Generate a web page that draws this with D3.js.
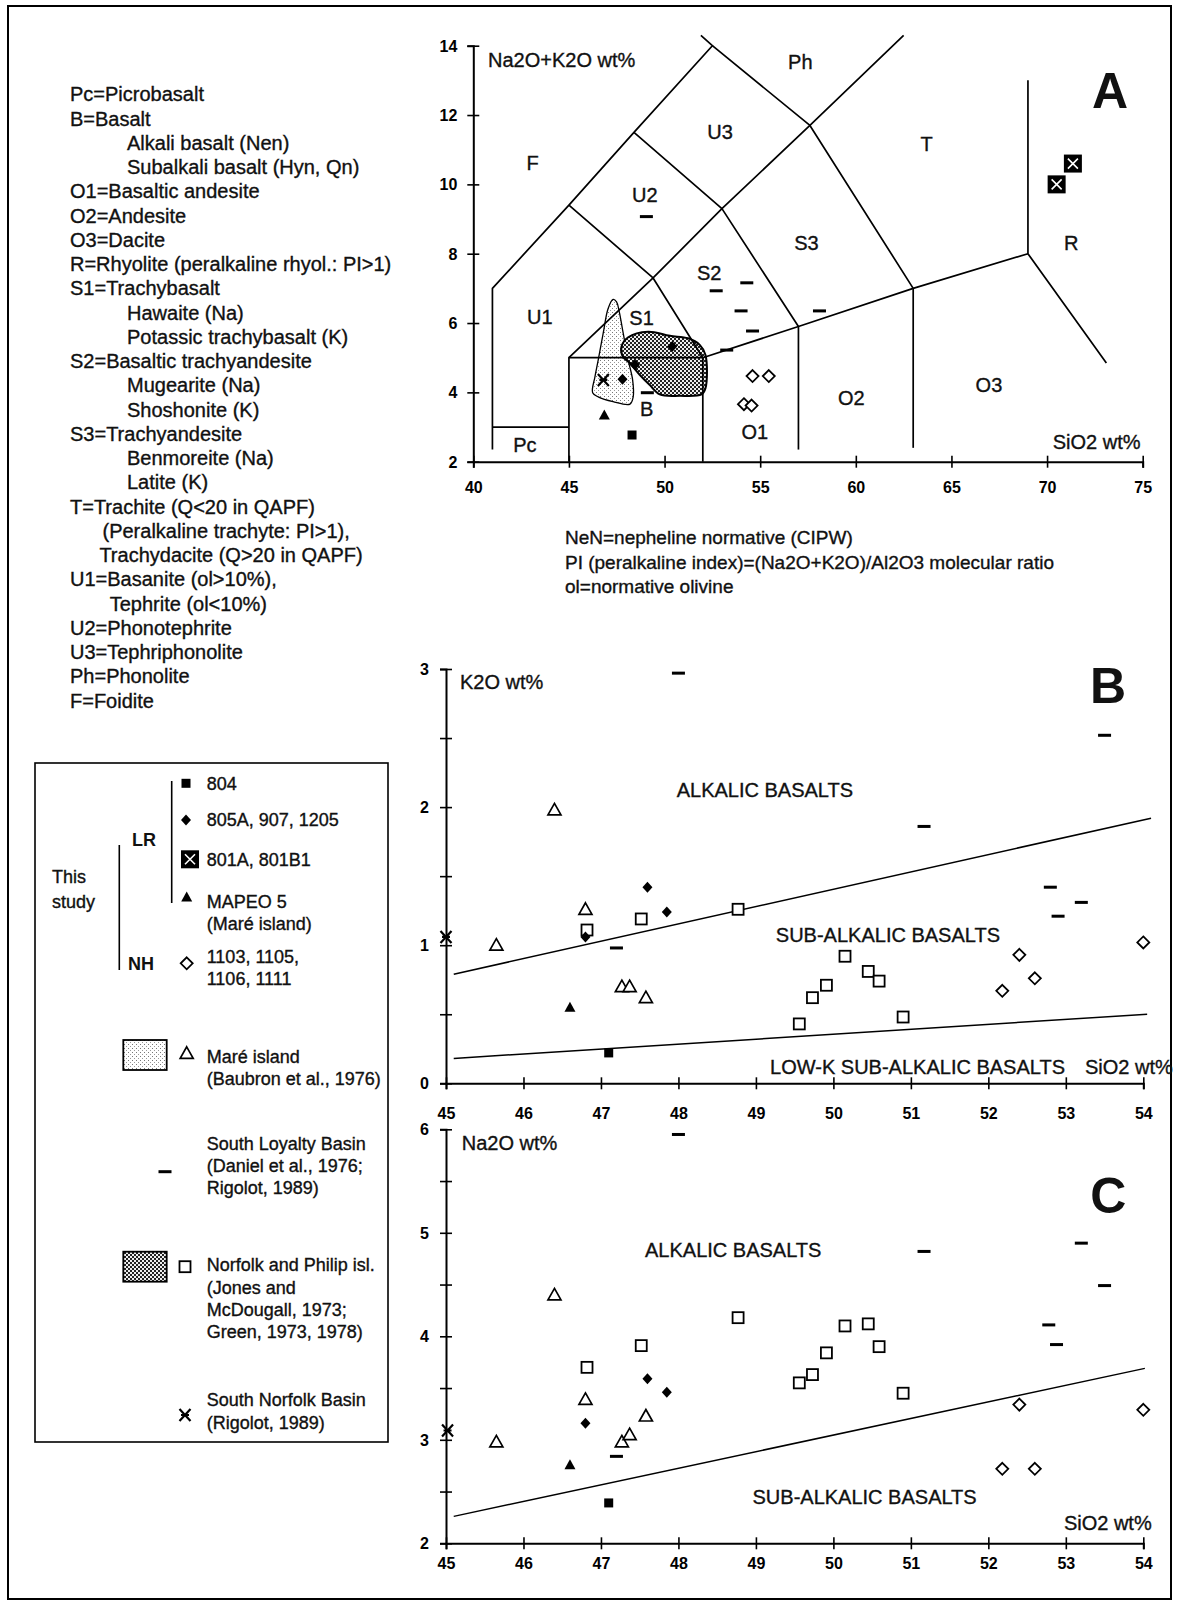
<!DOCTYPE html>
<html><head><meta charset="utf-8">
<script src="https://cdn.jsdelivr.net/npm/d3@7"></script>
<style>
body{margin:0;background:#fff}
svg{display:block}
text{font-family:"Liberation Sans",Arial,Helvetica,sans-serif;fill:#111;stroke:#111;stroke-width:0.35px}
</style>
</head><body>
<svg id="fig" width="1179" height="1607"></svg>
<script>
// ---------- Panel A: TAS classification (SiO2 vs Na2O+K2O) ----------
const tasBoundaries = [
  [[41,2.35],[41,7],[45,9.4],[48.4,11.5],[52.5,14],[51.9,14.3]],
  [[41,3],[45,3]],
  [[45,2],[45,5],[52,5],[52,2]],
  [[45,5],[49.4,7.3],[52,5]],
  [[45,9.4],[49.4,7.3],[53,9.3],[57.6,11.7],[62.5,14.3]],
  [[48.4,11.5],[53,9.3],[57,5.9]],
  [[52.5,14],[57.6,11.7],[63,7]],
  [[52,5],[57,5.9],[63,7],[69,8]],
  [[57,2.35],[57,5.9]],
  [[63,2.4],[63,7]],
  [[69,13],[69,8],[73.1,4.85]]
];
const tasFieldLabels = [
  ["F",43.1,10.62],["U3",52.9,11.52],["U2",48.97,9.69],["Ph",57.1,13.54],["T",63.7,11.16],
  ["S3",57.42,8.3],["R",71.26,8.3],["S2",52.33,7.45],["U1",43.48,6.18],["S1",48.8,6.14],
  ["B",49.06,3.51],["Pc",42.7,2.48],["O1",54.72,2.87],["O2",59.77,3.83],["O3",66.96,4.21]
];
const tasXTicks = [40,45,50,55,60,65,70,75];
const tasYTicks = [2,4,6,8,10,12,14];

// Outline of the Maré island field and of the Norfolk/Philip field
const mareField = [[47.31,6.68],[47.05,6.42],[46.79,5.70],[46.53,4.93],[46.36,4.45],[46.24,3.99],
  [46.53,3.87],[47.31,3.73],[48.19,3.66],[48.36,3.87],[48.33,4.36],[48.10,4.93],[47.84,5.70],
  [47.63,6.33],[47.49,6.61]];
const norfolkField = [[47.75,5.32],[48.10,5.59],[49.14,5.75],[50.28,5.63],[51.23,5.56],[51.84,5.37],
  [52.14,5.08],[52.14,4.12],[51.93,3.94],[50.80,3.90],[49.75,3.94],[49.23,4.21],[48.71,4.50],
  [48.19,4.84],[47.80,5.05]];

// samples: [SiO2, Na2O+K2O]
const a804   = [[48.3,2.77]];
const a805   = [[47.8,4.38],[48.45,4.8],[50.4,5.32]];
const a801   = [[70.5,10.0],[71.35,10.6]];
const aMapeo = [[46.85,3.35]];
const aNH    = [[54.6,4.47],[55.45,4.47],[54.15,3.66],[54.55,3.62]];
const aSLB   = [[49.05,9.07],[52.7,6.93],[54.3,7.16],[54.0,6.35],[54.6,5.77],[53.25,5.22],[58.1,6.35],[49.1,3.99]];
const aSNB   = [[46.8,4.36]];

// ---------- Panel B: SiO2 vs K2O ----------
const bAlkLine  = [[45.1,0.79],[54.1,1.92]];
const bLowKLine = [[45.1,0.18],[54.05,0.5]];
const b804   = [[47.1,0.22]];
const b805   = [[46.8,1.06],[47.6,1.42],[47.85,1.24]];
const bMapeo = [[46.6,0.55]];
const bNH    = [[52.18,0.67],[52.4,0.93],[52.6,0.76],[54.0,1.02]];
const bMare  = [[45.65,1.0],[46.4,1.98],[46.8,1.26],[47.27,0.7],[47.37,0.7],[47.58,0.62]];
const bSLB   = [[48.0,2.97],[47.2,0.98],[51.17,1.86],[53.5,2.52],[52.8,1.42],[53.2,1.31],[52.9,1.21]];
const bNF    = [[46.82,1.11],[47.52,1.19],[48.77,1.26],[49.56,0.43],[49.73,0.62],[49.91,0.71],
                [50.15,0.92],[50.45,0.81],[50.59,0.74],[50.9,0.48]];
const bSNB   = [[45.0,1.06]];

// ---------- Panel C: SiO2 vs Na2O ----------
const cAlkLine = [[45.1,2.26],[54.02,3.69]];
const c804   = [[47.1,2.39]];
const c805   = [[46.8,3.16],[47.6,3.59],[47.85,3.46]];
const cMapeo = [[46.6,2.76]];
const cNH    = [[52.18,2.72],[52.4,3.34],[52.6,2.72],[54.0,3.29]];
const cMare  = [[45.65,2.98],[46.4,4.4],[46.8,3.39],[47.27,2.98],[47.37,3.05],[47.58,3.23]];
const cSLB   = [[48.0,5.95],[47.2,2.84],[51.17,4.82],[53.2,4.9],[53.5,4.49],[52.78,4.11],[52.88,3.92]];
const cNF    = [[46.82,3.7],[47.52,3.91],[48.77,4.18],[49.56,3.55],[49.73,3.63],[49.91,3.84],
                [50.15,4.1],[50.45,4.12],[50.59,3.9],[50.9,3.45]];
const cSNB   = [[45.02,3.09]];

const bcXTicks = [45,46,47,48,49,50,51,52,53,54];
const bYTicks = [0,0.5,1,1.5,2,2.5,3];
const cYTicks = [2,2.5,3,3.5,4,4.5,5,5.5,6];

// rock-name key
const rockKey = [
  [0,"Pc=Picrobasalt"],[0,"B=Basalt"],[2,"Alkali basalt (Nen)"],[2,"Subalkali basalt (Hyn, Qn)"],
  [0,"O1=Basaltic andesite"],[0,"O2=Andesite"],[0,"O3=Dacite"],[0,"R=Rhyolite (peralkaline rhyol.: PI>1)"],
  [0,"S1=Trachybasalt"],[2,"Hawaite (Na)"],[2,"Potassic trachybasalt (K)"],
  [0,"S2=Basaltic trachyandesite"],[2,"Mugearite (Na)"],[2,"Shoshonite (K)"],
  [0,"S3=Trachyandesite"],[2,"Benmoreite (Na)"],[2,"Latite (K)"],
  [0,"T=Trachite (Q<20 in QAPF)"],[1,"(Peralkaline trachyte: PI>1),"],[1.5,"Trachydacite (Q>20 in QAPF)"],
  [0,"U1=Basanite (ol>10%),"],[1.7,"Tephrite (ol<10%)"],
  [0,"U2=Phonotephrite"],[0,"U3=Tephriphonolite"],[0,"Ph=Phonolite"],[0,"F=Foidite"]
];
const notes = [
  "NeN=nepheline normative (CIPW)",
  "PI (peralkaline index)=(Na2O+K2O)/Al2O3 molecular ratio",
  "ol=normative olivine"
];

// ======================================================================
const svg = d3.select("#fig");
svg.append("rect").attr("width",1179).attr("height",1607).attr("fill","#fff");

const defs = svg.append("defs");
const stip = defs.append("pattern").attr("id","stipple").attr("patternUnits","userSpaceOnUse")
  .attr("width",4).attr("height",4);
stip.append("rect").attr("width",4).attr("height",4).attr("fill","#fff");
stip.append("rect").attr("x",0).attr("y",0).attr("width",1).attr("height",1).attr("fill","#777");
stip.append("rect").attr("x",2).attr("y",2).attr("width",1).attr("height",1).attr("fill","#999");
const hatch = defs.append("pattern").attr("id","hatch").attr("patternUnits","userSpaceOnUse")
  .attr("width",4).attr("height",4);
hatch.append("rect").attr("width",4).attr("height",4).attr("fill","#eee");
hatch.append("rect").attr("x",0).attr("y",0).attr("width",2).attr("height",2).attr("fill","#222");
hatch.append("rect").attr("x",2).attr("y",2).attr("width",2).attr("height",2).attr("fill","#222");

// outer frame
svg.append("rect").attr("x",8).attr("y",6).attr("width",1163).attr("height",1593)
  .attr("fill","none").attr("stroke","#000").attr("stroke-width",2);

// symbol painters, centred on 0,0
const SYM = {
  fsq:  g => g.append("rect").attr("x",-4.5).attr("y",-4.5).attr("width",9).attr("height",9).attr("fill","#000"),
  fdia: g => g.append("path").attr("d","M0,-5.5L5,0L0,5.5L-5,0Z").attr("fill","#000"),
  xsq:  g => { g.append("rect").attr("x",-9).attr("y",-9).attr("width",18).attr("height",18).attr("fill","#000");
               g.append("path").attr("d","M-5,-5L5,5M5,-5L-5,5").attr("stroke","#fff").attr("stroke-width",1.6); },
  ftri: g => g.append("path").attr("d","M0,-5.5L5.5,4.5L-5.5,4.5Z").attr("fill","#000"),
  odia: g => g.append("path").attr("d","M0,-6L6,0L0,6L-6,0Z").attr("fill","#fff").attr("stroke","#000").attr("stroke-width",1.8),
  otri: g => g.append("path").attr("d","M0,-6.5L6.5,5L-6.5,5Z").attr("fill","#fff").attr("stroke","#000").attr("stroke-width",1.7),
  osq:  g => g.append("rect").attr("x",-5.5).attr("y",-5.5).attr("width",11).attr("height",11).attr("fill","#fff").attr("stroke","#000").attr("stroke-width",1.8),
  dash: g => g.append("rect").attr("x",-6.5).attr("y",-1.5).attr("width",13).attr("height",3).attr("fill","#000"),
  star: g => g.append("path").attr("d","M-5.5,-6L5.5,6M5.5,-6L-5.5,6M-4,0L4,0").attr("stroke","#000").attr("stroke-width",2.2).attr("fill","none")
};
function plotMarks(g, data, sym, x, y){
  g.append("g").selectAll("g").data(data).join("g")
    .attr("transform", d => `translate(${x(d[0])},${y(d[1])})`)
    .each(function(){ SYM[sym](d3.select(this)); });
}
function drawAxes(g, x, y, o){
  const gx = g.append("g").attr("transform",`translate(0,${y.range()[0]})`)
    .call(d3.axisBottom(x).tickValues(o.xt).tickSizeOuter(0).tickSize(6).tickFormat(d3.format("d")));
  gx.selectAll(".tick line").attr("y1",-6).attr("y2",6).attr("stroke-width",1.6);
  gx.selectAll(".tick text").attr("y",o.xOff).attr("dy","0.35em");
  const gy = g.append("g").attr("transform",`translate(${x.range()[0]},0)`)
    .call(d3.axisLeft(y).tickValues(o.yt).tickSizeOuter(0).tickSize(6)
      .tickFormat(d => Number.isInteger(d) ? d : ""));
  gy.selectAll(".tick line").attr("x1",6).attr("x2",-6).attr("stroke-width",1.6);
  gy.selectAll(".tick text").attr("x",-o.yOff).attr("dy","0.35em");
  [gx,gy].forEach(a => {
    a.attr("font-family",null).attr("font-size",null);
    a.select(".domain").attr("stroke-width",2);
    a.selectAll(".tick text").attr("font-size",16).attr("font-weight","bold")
      .style("fill","#000").style("stroke","none");
  });
}
const line = (x,y) => d3.line().x(d=>x(d[0])).y(d=>y(d[1]));
function txt(g, s, x, y, anchor, size, weight){
  const t = g.append("text").attr("x",x).attr("y",y).attr("text-anchor",anchor||"start")
    .attr("font-size",size||20).attr("font-weight",weight||"normal").text(s);
  if (weight === "bold") t.style("stroke","none");
  return t;
}

// ---------------- Panel A ----------------
const xA = d3.scaleLinear().domain([40,75]).range([473.3,1142.7]);
const yA = d3.scaleLinear().domain([2,14]).range([461.7,45.7]);
const gA = svg.append("g");
gA.append("path").datum(mareField).attr("d",line(xA,yA).curve(d3.curveCatmullRomClosed.alpha(0.5)))
  .attr("fill","url(#stipple)").attr("stroke","#000").attr("stroke-width",1.3);
gA.append("path").datum(norfolkField).attr("d",line(xA,yA).curve(d3.curveCatmullRomClosed.alpha(0.5)))
  .attr("fill","url(#hatch)").attr("stroke","#000").attr("stroke-width",2);
gA.append("g").selectAll("path").data(tasBoundaries).join("path")
  .attr("d",line(xA,yA)).attr("fill","none").attr("stroke","#000").attr("stroke-width",1.7)
  .attr("stroke-linejoin","round");
drawAxes(gA, xA, yA, {xt:tasXTicks, yt:tasYTicks, xOff:26, yOff:16});
gA.append("g").selectAll("text").data(tasFieldLabels).join("text")
  .attr("x",d=>xA(d[1])).attr("y",d=>yA(d[2])).attr("dy","0.35em").attr("text-anchor","middle")
  .attr("font-size",20).text(d=>d[0]);
txt(gA,"Na2O+K2O wt%",488,67);
txt(gA,"SiO2 wt%",1096.7,449,"middle");
txt(gA,"A",1110,108,"middle",50,"bold");
plotMarks(gA,aSLB,"dash",xA,yA);
plotMarks(gA,a804,"fsq",xA,yA);
plotMarks(gA,a805,"fdia",xA,yA);
plotMarks(gA,a801,"xsq",xA,yA);
plotMarks(gA,aMapeo,"ftri",xA,yA);
plotMarks(gA,aNH,"odia",xA,yA);
plotMarks(gA,aSNB,"star",xA,yA);

// notes under panel A
notes.forEach((s,i) => txt(svg, s, 565, 544 + i*24.5, "start", 19));

// ---------------- Panel B ----------------
const xB = d3.scaleLinear().domain([45,54]).range([446,1143.3]);
const yB = d3.scaleLinear().domain([0,3]).range([1083.3,669]);
const gB = svg.append("g");
[bAlkLine,bLowKLine].forEach(l => gB.append("path").datum(l).attr("d",line(xB,yB))
  .attr("fill","none").attr("stroke","#000").attr("stroke-width",1.5));
drawAxes(gB, xB, yB, {xt:bcXTicks, yt:bYTicks, xOff:30, yOff:17});
txt(gB,"K2O wt%",460,689);
txt(gB,"ALKALIC BASALTS",676.7,797);
txt(gB,"SUB-ALKALIC BASALTS",1000,942,"end");
txt(gB,"LOW-K SUB-ALKALIC BASALTS",1065,1074,"end");
txt(gB,"SiO2 wt%",1085,1074);
txt(gB,"B",1108,703,"middle",50,"bold");
plotMarks(gB,bSLB,"dash",xB,yB);
plotMarks(gB,bNF,"osq",xB,yB);
plotMarks(gB,bMare,"otri",xB,yB);
plotMarks(gB,bNH,"odia",xB,yB);
plotMarks(gB,b804,"fsq",xB,yB);
plotMarks(gB,b805,"fdia",xB,yB);
plotMarks(gB,bMapeo,"ftri",xB,yB);
plotMarks(gB,bSNB,"star",xB,yB);

// ---------------- Panel C ----------------
const xC = d3.scaleLinear().domain([45,54]).range([446,1143.3]);
const yC = d3.scaleLinear().domain([2,6]).range([1543.3,1129.3]);
const gC = svg.append("g");
gC.append("path").datum(cAlkLine).attr("d",line(xC,yC))
  .attr("fill","none").attr("stroke","#000").attr("stroke-width",1.5);
drawAxes(gC, xC, yC, {xt:bcXTicks, yt:cYTicks, xOff:20, yOff:17});
txt(gC,"Na2O wt%",461.7,1150);
txt(gC,"ALKALIC BASALTS",645,1257);
txt(gC,"SUB-ALKALIC BASALTS",976.7,1504,"end");
txt(gC,"SiO2 wt%",1151.7,1530,"end");
txt(gC,"C",1108.3,1213,"middle",50,"bold");
plotMarks(gC,cSLB,"dash",xC,yC);
plotMarks(gC,cNF,"osq",xC,yC);
plotMarks(gC,cMare,"otri",xC,yC);
plotMarks(gC,cNH,"odia",xC,yC);
plotMarks(gC,c804,"fsq",xC,yC);
plotMarks(gC,c805,"fdia",xC,yC);
plotMarks(gC,cMapeo,"ftri",xC,yC);
plotMarks(gC,cSNB,"star",xC,yC);

// ---------------- rock-name key ----------------
const indentX = {0:70, 1:102.5, 1.5:99.4, 1.7:109.7, 2:127};
svg.append("g").selectAll("text").data(rockKey).join("text")
  .attr("x",d=>indentX[d[0]]).attr("y",(d,i)=>94.3+i*24.25).attr("dy","0.35em")
  .attr("font-size",20).text(d=>d[1]);

// ---------------- symbol legend ----------------
const gL = svg.append("g");
gL.append("rect").attr("x",35).attr("y",763).attr("width",353).attr("height",679)
  .attr("fill","none").attr("stroke","#000").attr("stroke-width",1.6);
gL.append("line").attr("x1",171.7).attr("x2",171.7).attr("y1",781).attr("y2",903).attr("stroke","#000").attr("stroke-width",1.6);
gL.append("line").attr("x1",119.3).attr("x2",119.3).attr("y1",845).attr("y2",970).attr("stroke","#000").attr("stroke-width",1.6);
txt(gL,"LR",144,846,"middle",18,"bold");
txt(gL,"This",52,883,"start",18);
txt(gL,"study",52,908,"start",18);
txt(gL,"NH",141,970,"middle",18,"bold");
const legendItems = [
  ["fsq",186,783.3,["804"],783.3],
  ["fdia",186,820,["805A, 907, 1205"],820],
  ["xsq",190,859.3,["801A, 801B1"],859.3],
  ["ftri",186.7,897,["MAPEO 5","(Maré island)"],901.7],
  ["odia",186.7,963.3,["1103, 1105,","1106, 1111"],956.7],
  ["otri",186.7,1053.3,["Maré island","(Baubron et al., 1976)"],1056.7],
  ["dash",165,1171.7,["South Loyalty Basin","(Daniel et al., 1976;","Rigolot, 1989)"],1143.3],
  ["osq",185,1266.7,["Norfolk and Philip isl.","(Jones and","McDougall, 1973;","Green, 1973, 1978)"],1265],
  ["star",185,1415,["South Norfolk Basin","(Rigolot, 1989)"],1400]
];
legendItems.forEach(([sym,sx,sy,lines,ty]) => {
  SYM[sym](gL.append("g").attr("transform",`translate(${sx},${sy})`));
  lines.forEach((s,i) => gL.append("text").attr("x",206.7).attr("y",ty + i*22.2).attr("dy","0.35em")
    .attr("font-size",18).text(s));
});
gL.append("rect").attr("x",123.3).attr("y",1040).attr("width",43.4).attr("height",30)
  .attr("fill","url(#stipple)").attr("stroke","#000").attr("stroke-width",1.8);
gL.append("rect").attr("x",123.3).attr("y",1251.7).attr("width",43.4).attr("height",30)
  .attr("fill","url(#hatch)").attr("stroke","#000").attr("stroke-width",1.8);
</script>
</body></html>
